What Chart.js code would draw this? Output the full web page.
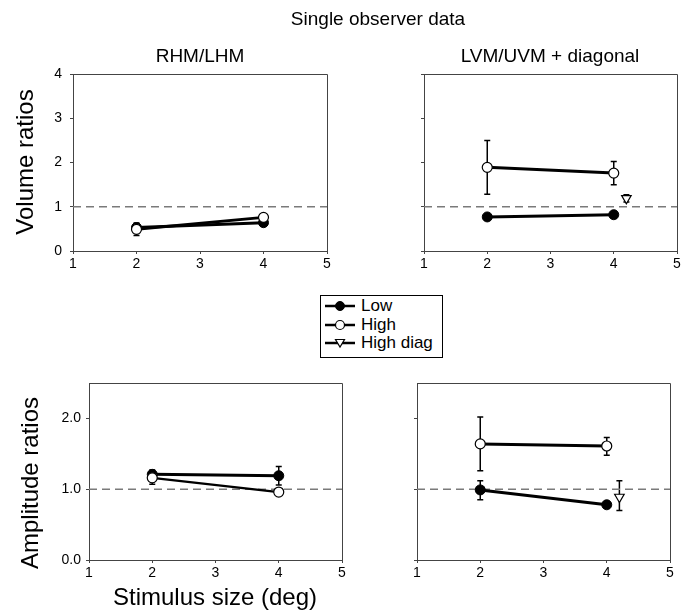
<!DOCTYPE html>
<html><head><meta charset="utf-8">
<script src="https://cdn.jsdelivr.net/npm/chart.js@4/dist/chart.umd.min.js"></script>
<style>
html,body{margin:0;padding:0;background:#fff;}
#wrap{position:relative;width:691px;height:613px;overflow:hidden;font-family:"Liberation Sans",Arial,sans-serif;color:#000;}
#wrap canvas{position:absolute;left:0;top:0;}
.t{position:absolute;white-space:nowrap;transform:translate(-50%,-50%);line-height:1;}
.rot{transform:translate(-50%,-50%) rotate(-90deg);}
#legend{position:absolute;left:320px;top:295px;width:121px;height:61px;border:1px solid #000;background:#fff;font-size:17px;}
#legend .row{position:absolute;left:4px;height:18px;display:flex;align-items:center;}
#legend svg{margin-right:4px;}
</style>
</head><body>
<div id="wrap">
<canvas id="cTL" width="691" height="613"></canvas>
<canvas id="cTR" width="691" height="613"></canvas>
<canvas id="cBL" width="691" height="613"></canvas>
<canvas id="cBR" width="691" height="613"></canvas>
<div class="t" style="left:378px;top:18px;font-size:19px;">Single observer data</div>
<div class="t" style="left:200px;top:55px;font-size:19px;">RHM/LHM</div>
<div class="t" style="left:550px;top:55px;font-size:19px;">LVM/UVM + diagonal</div>
<div class="t rot" style="left:25px;top:162px;font-size:24px;">Volume ratios</div>
<div class="t rot" style="left:30px;top:483px;font-size:24px;">Amplitude ratios</div>
<div class="t" style="left:215px;top:597px;font-size:24px;">Stimulus size (deg)</div>
<div id="legend"></div>
</div>
<script>
// ---------- data ----------
const seriesNames = ['Low', 'High', 'High diag'];
const sizes = [2, 4];
const diagSizes = [4.2];
const xTicks = [1, 2, 3, 4, 5];
const volTicks = [0, 1, 2, 3, 4];
const ampTicks = [0, 1, 2];
const refLevel = 1;

// Volume ratios, RHM/LHM
const volHLow = [0.53, 0.64];
const volHLowErr = [null, null];
const volHHigh = [0.49, 0.76];
const volHHighErr = [[0.35, 0.63], null];

// Volume ratios, LVM/UVM + diagonal
const volVLow = [0.77, 0.82];
const volVLowErr = [null, null];
const volVHigh = [1.89, 1.76];
const volVHighErr = [[1.28, 2.50], [1.50, 2.02]];
const volDiag = [1.19];
const volDiagErr = [[1.11, 1.27]];

// Amplitude ratios, RHM/LHM
const ampHLow = [1.21, 1.19];
const ampHLowErr = [[1.16, 1.27], [1.06, 1.32]];
const ampHHigh = [1.16, 0.96];
const ampHHighErr = [[1.07, 1.20], null];

// Amplitude ratios, LVM/UVM + diagonal
const ampVLow = [0.99, 0.78];
const ampVLowErr = [[0.85, 1.12], null];
const ampVHigh = [1.64, 1.61];
const ampVHighErr = [[1.26, 2.02], [1.48, 1.73]];
const ampDiag = [0.89];
const ampDiagErr = [[0.70, 1.12]];

// ---------- helpers ----------
const W = 691, H = 613, YW = 50, XH = 30;
const AX = '#444';
const FONT = '"Liberation Sans", Arial, sans-serif';

function pts(xs, ys) { return xs.map((x, i) => ({ x: x, y: ys[i] })); }

function lowDs(xs, ys, err, lw) {
  return { label: seriesNames[0], data: pts(xs, ys), errorBars: err, showLine: true,
    borderColor: '#000', borderWidth: lw || 3, backgroundColor: '#000',
    pointRadius: 5, pointBorderWidth: 1, pointBorderColor: '#000', pointBackgroundColor: '#000', pointStyle: 'circle' };
}
function highDs(xs, ys, err, lw) {
  return { label: seriesNames[1], data: pts(xs, ys), errorBars: err, showLine: true,
    borderColor: '#000', borderWidth: lw || 3, backgroundColor: '#fff',
    pointRadius: 5, pointBorderWidth: 1.2, pointBorderColor: '#000', pointBackgroundColor: '#fff', pointStyle: 'circle' };
}
function diagDs(xs, ys, err) {
  return { label: seriesNames[2], data: pts(xs, ys), errorBars: err, showLine: false,
    borderColor: '#000', borderWidth: 1, backgroundColor: '#fff',
    pointRadius: 5.5, pointBorderWidth: 1.2, pointBorderColor: '#000', pointBackgroundColor: '#fff',
    pointStyle: 'triangle', pointRotation: 180 };
}
function refDs() {
  return { label: 'ref', data: pts([xTicks[0], xTicks[xTicks.length - 1]], [refLevel, refLevel]), showLine: true,
    borderColor: '#7a7a7a', borderWidth: 1.5, borderDash: [8, 5], pointRadius: 0, errorBars: null };
}

const errPlugin = {
  id: 'errs',
  beforeDatasetsDraw(chart) {
    const ctx = chart.ctx, xs = chart.scales.x, ys = chart.scales.y;
    ctx.save();
    ctx.strokeStyle = '#000';
    ctx.lineWidth = 1.5;
    chart.data.datasets.forEach(ds => {
      if (!ds.errorBars) return;
      ds.errorBars.forEach((e, i) => {
        if (!e) return;
        const px = xs.getPixelForValue(ds.data[i].x);
        const p1 = ys.getPixelForValue(e[0]);
        const p2 = ys.getPixelForValue(e[1]);
        ctx.beginPath();
        ctx.moveTo(px, p1); ctx.lineTo(px, p2);
        ctx.moveTo(px - 3, p1); ctx.lineTo(px + 3, p1);
        ctx.moveTo(px - 3, p2); ctx.lineTo(px + 3, p2);
        ctx.stroke();
      });
    });
    ctx.restore();
  }
};
const framePlugin = {
  id: 'frame',
  afterDraw(chart) {
    const a = chart.chartArea, ctx = chart.ctx;
    ctx.save();
    ctx.strokeStyle = AX; ctx.lineWidth = 1;
    ctx.beginPath();
    ctx.moveTo(a.left, a.top + 0.5); ctx.lineTo(a.right + 0.5, a.top + 0.5);
    ctx.lineTo(a.right + 0.5, a.bottom);
    ctx.stroke();
    ctx.restore();
  }
};

function makeChart(id, area, yMax, yTickVals, yFmt, yPad, datasets) {
  new Chart(document.getElementById(id), {
    type: 'scatter',
    data: { datasets: datasets },
    options: {
      responsive: false, animation: false, devicePixelRatio: 1, events: [],
      layout: { padding: { left: area.left - YW, top: area.top, right: W - area.right, bottom: H - area.bottom - XH } },
      plugins: { legend: { display: false }, tooltip: { enabled: false } },
      scales: {
        x: {
          type: 'linear', min: xTicks[0], max: xTicks[xTicks.length - 1],
          afterBuildTicks: s => { s.ticks = xTicks.map(v => ({ value: v })); },
          afterFit: s => { s.height = XH; },
          grid: { display: true, drawOnChartArea: false, drawTicks: true, tickLength: 3, color: AX },
          border: { display: true, color: AX, width: 1 },
          ticks: { color: '#000', padding: 2, font: { family: FONT, size: 14 }, maxRotation: 0, autoSkip: false,
            callback: v => String(v) }
        },
        y: {
          type: 'linear', min: 0, max: yMax,
          afterBuildTicks: s => { s.ticks = yTickVals.map(v => ({ value: v })); },
          afterFit: s => { s.width = YW; },
          grid: { display: true, drawOnChartArea: false, drawTicks: true, tickLength: 3, color: AX },
          border: { display: true, color: AX, width: 1 },
          ticks: { color: '#000', padding: yPad, font: { family: FONT, size: 14 }, autoSkip: false,
            callback: yFmt }
        }
      }
    },
    plugins: [errPlugin, framePlugin]
  });
}

const volFmt = v => String(v);
const ampFmt = v => v.toFixed(1);
const noFmt = v => '';

makeChart('cTL', { left: 73, top: 74, right: 327, bottom: 251 }, 4, volTicks, volFmt, 8,
  [highDs(sizes, volHHigh, volHHighErr), lowDs(sizes, volHLow, volHLowErr), refDs()]);
makeChart('cTR', { left: 424, top: 74, right: 677, bottom: 251 }, 4, volTicks, noFmt, 8,
  [diagDs(diagSizes, volDiag, volDiagErr), highDs(sizes, volVHigh, volVHighErr), lowDs(sizes, volVLow, volVLowErr), refDs()]);
makeChart('cBL', { left: 89, top: 383, right: 342, bottom: 560 }, 2.5, ampTicks, ampFmt, 5,
  [highDs(sizes, ampHHigh, ampHHighErr, 2.2), lowDs(sizes, ampHLow, ampHLowErr), refDs()]);
makeChart('cBR', { left: 417, top: 383, right: 670, bottom: 560 }, 2.5, ampTicks, noFmt, 5,
  [diagDs(diagSizes, ampDiag, ampDiagErr), highDs(sizes, ampVHigh, ampVHighErr), lowDs(sizes, ampVLow, ampVLowErr), refDs()]);

// ---------- legend ----------
const symbols = {
  'Low': '<circle cx="15" cy="7" r="4.5" fill="#000" stroke="#000"/>',
  'High': '<circle cx="15" cy="7" r="4.5" fill="#fff" stroke="#000" stroke-width="1.2"/>',
  'High diag': '<polygon points="10.5,3.5 19.5,3.5 15,11" fill="#fff" stroke="#000" stroke-width="1.2"/>'
};
const rowTops = [1, 20, 38];
const legend = document.getElementById('legend');
seriesNames.forEach((name, i) => {
  const row = document.createElement('div');
  row.className = 'row';
  row.style.top = rowTops[i] + 'px';
  row.innerHTML = '<svg width="32" height="14"><line x1="0" y1="7" x2="30" y2="7" stroke="#000" stroke-width="2.5"/>' +
    symbols[name] + '</svg><span>' + name + '</span>';
  legend.appendChild(row);
});
</script>
</body></html>
